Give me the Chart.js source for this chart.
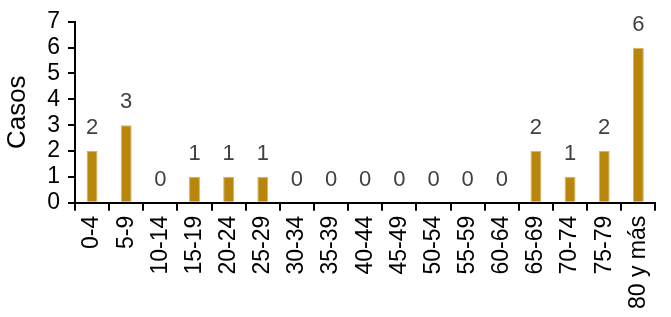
<!DOCTYPE html>
<html>
<head>
<meta charset="utf-8">
<script src="https://cdn.jsdelivr.net/npm/chart.js@4/dist/chart.umd.min.js"></script>
<style>
  html, body { margin: 0; padding: 0; background: #fff; }
  #wrap { width: 671px; height: 317px; }
</style>
</head>
<body>
<div id="wrap"><canvas id="chart"></canvas></div>
<script>
'use strict';

// age groups and case counts
var age_groups = ['0-4', '5-9', '10-14', '15-19', '20-24', '25-29', '30-34', '35-39', '40-44',
    '45-49', '50-54', '55-59', '60-64', '65-69', '70-74', '75-79', '80 y más'];
var casos = [2, 3, 0, 1, 1, 1, 0, 0, 0, 0, 0, 0, 0, 2, 1, 2, 6];
var y_ticks = [0, 1, 2, 3, 4, 5, 6, 7];

var font_family = '"Liberation Sans", Arial, sans-serif';

// value labels drawn above each bar
var bar_labels = {
    id: 'bar_labels',
    afterDatasetsDraw: function(chart) {
        var ctx = chart.ctx;
        var meta = chart.getDatasetMeta(0);
        ctx.save();
        ctx.font = '22px ' + font_family;
        ctx.fillStyle = '#404040';
        ctx.textAlign = 'center';
        ctx.textBaseline = 'middle';
        meta.data.forEach(function(bar, i) {
            ctx.fillText(String(casos[i]), bar.x, bar.y - 23);
        });
        ctx.restore();
    }
};

new Chart(document.getElementById('chart'), {
    type: 'bar',
    data: {
        labels: age_groups,
        datasets: [{
            data: casos,
            backgroundColor: '#B8860B',
            borderColor: '#D9B45A',
            borderWidth: 1,
            categoryPercentage: 1,
            barPercentage: 0.32
        }]
    },
    options: {
        responsive: true,
        maintainAspectRatio: false,
        animation: false,
        layout: { padding: { top: 8, right: 1, left: 2, bottom: 3 } },
        plugins: {
            legend: { display: false },
            tooltip: { enabled: false }
        },
        scales: {
            x: {
                border: { display: true, color: '#000', width: 2 },
                grid: { display: true, drawOnChartArea: false, offset: true, color: '#000', lineWidth: 2, tickLength: 8 },
                ticks: {
                    color: '#000',
                    font: { family: font_family, size: 23 },
                    maxRotation: 90,
                    minRotation: 90,
                    autoSkip: false,
                    padding: 5
                }
            },
            y: {
                min: 0,
                max: 7,
                afterBuildTicks: function(axis) {
                    axis.ticks = y_ticks.map(function(v) { return { value: v }; });
                },
                border: { display: true, color: '#000', width: 2 },
                grid: { display: true, drawOnChartArea: false, color: '#000', lineWidth: 2, tickLength: 7 },
                ticks: {
                    color: '#000',
                    font: { family: font_family, size: 23 },
                    autoSkip: false,
                    padding: 8
                },
                title: {
                    display: true,
                    text: 'Casos',
                    color: '#000',
                    font: { family: font_family, size: 26 },
                    padding: { top: 0, bottom: 6 }
                }
            }
        }
    },
    plugins: [bar_labels]
});
</script>
</body>
</html>
